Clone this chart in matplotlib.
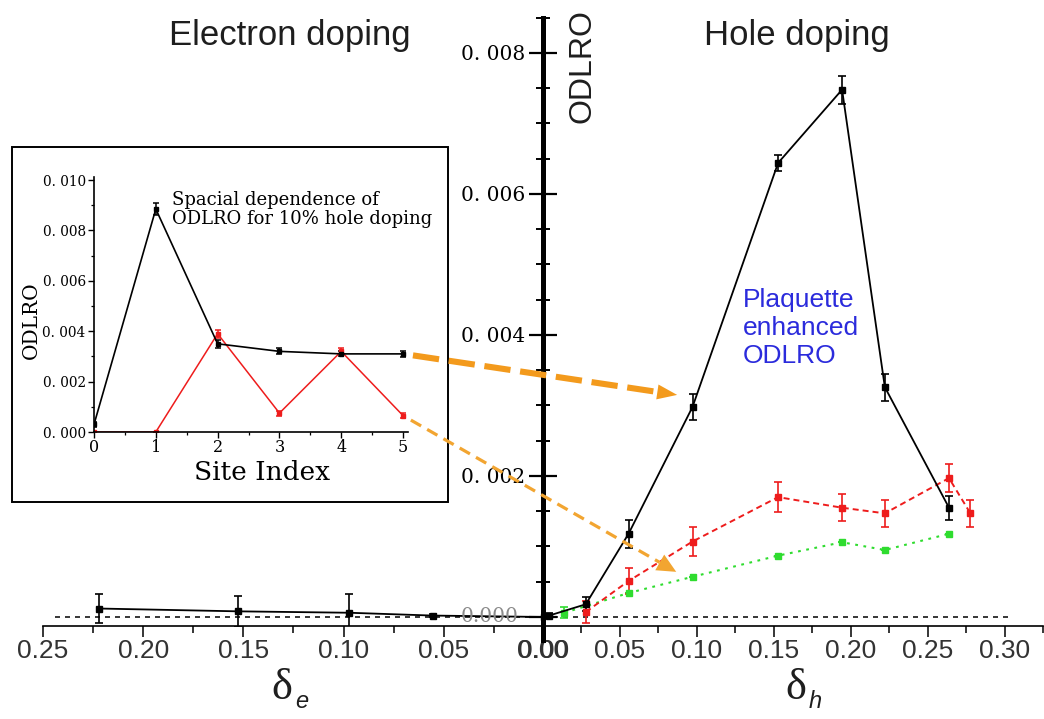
import matplotlib
matplotlib.use("Agg")
import numpy as np
import matplotlib.pyplot as plt
from matplotlib.ticker import MultipleLocator, FuncFormatter, NullLocator
from matplotlib.patches import Rectangle, Polygon
from matplotlib.lines import Line2D

plt.rcParams['lines.scale_dashes'] = False

# ---------------- data ----------------
# hole doping (right half)
hole_delta_black = [0.004, 0.0278, 0.0556, 0.0972, 0.1528, 0.1944, 0.2222, 0.2639]
hole_odlro_black = [0.00002, 0.00018, 0.00118, 0.00298, 0.00644, 0.00748, 0.00326, 0.00155]
hole_err_black = [0.00003, 0.00010, 0.00020, 0.00018, 0.00012, 0.00020, 0.00019, 0.00017]

hole_delta_red = [0.0278, 0.0556, 0.0972, 0.1528, 0.1944, 0.2222, 0.2639, 0.2778]
hole_odlro_red = [0.00007, 0.00051, 0.00107, 0.00170, 0.00155, 0.00147, 0.00197, 0.00147]
hole_err_red = [0.00015, 0.00018, 0.00021, 0.00021, 0.00019, 0.00019, 0.00020, 0.00019]

hole_delta_green = [0.0139, 0.0556, 0.0972, 0.1528, 0.1944, 0.2222, 0.2639]
hole_odlro_green = [0.00006, 0.00034, 0.00057, 0.00087, 0.00106, 0.00095, 0.00118]
hole_err_green = [0.00008, 0.0, 0.0, 0.0, 0.0, 0.0, 0.0]

# electron doping (left half)
elec_delta = [0.2222, 0.1528, 0.0972, 0.0556, 0.0]
elec_odlro = [0.00012, 0.00008, 0.00006, 0.00002, 0.0]
elec_err = [0.00021, 0.00022, 0.00026, 0.00002, 0.0]

# inset: spatial dependence at 10% hole doping
sites = [0, 1, 2, 3, 4, 5]
site_black = [0.0003, 0.00885, 0.0035, 0.0032, 0.0031, 0.0031]
site_black_err = [0.0001, 0.00024, 0.00015, 0.00012, 0.0001, 0.00012]
site_red = [0.0, 0.0, 0.0039, 0.00075, 0.0032, 0.00065]
site_red_err = [0.0, 0.0, 0.00016, 0.0001, 0.00012, 0.0001]

x_ticks_e = [0.25, 0.20, 0.15, 0.10, 0.05, 0.00]
x_ticks_h = [0.00, 0.05, 0.10, 0.15, 0.20, 0.25, 0.30]

# ---------------- figure ----------------
W, H, DPI = 1044, 719, 100
fig = plt.figure(figsize=(W / DPI, H / DPI), dpi=DPI)
fig.patch.set_facecolor('white')


def fx(px):
    return px / W


def fy(py):
    return 1 - py / H


SANS = 'Liberation Sans'
SERIF = 'DejaVu Serif'
Y_LO, Y_HI = -0.000128, 0.0085
top_px, bot_px = 17.75, 626

ax_e = fig.add_axes([fx(43), fy(bot_px), fx(544 - 43), (bot_px - top_px) / H])
ax_h = fig.add_axes([fx(543), fy(bot_px), fx(1043 - 543), (bot_px - top_px) / H])
for ax in (ax_e, ax_h):
    ax.set_facecolor('none')
    ax.set_ylim(Y_LO, Y_HI)
    for s in ('top', 'right'):
        ax.spines[s].set_visible(False)
    ax.spines['bottom'].set_linewidth(1.2)
    ax.xaxis.set_major_formatter(FuncFormatter(lambda v, p: f"{abs(v):.2f}"))
    ax.xaxis.set_minor_locator(MultipleLocator(0.025))
    ax.tick_params(axis='x', which='major', direction='out', length=8, width=1.1,
                   labelsize=19, labelcolor='#333333', pad=1, labelfontfamily=SANS)
    ax.tick_params(axis='x', which='minor', direction='out', length=5, width=1.1)

ax_e.set_xlim(0.25, 0.0)
ax_e.set_xticks(x_ticks_e)
ax_e.spines['left'].set_visible(False)
ax_e.yaxis.set_major_locator(NullLocator())

ax_h.set_xlim(0.0, 0.325)
ax_h.set_xticks(x_ticks_h)
ax_h.spines['left'].set_linewidth(3.6)
ax_h.spines['left'].set_bounds(-0.00033, Y_HI)
ax_h.yaxis.set_major_locator(MultipleLocator(0.002))
ax_h.yaxis.set_minor_locator(MultipleLocator(0.0005))
ax_h.yaxis.set_major_formatter(
    FuncFormatter(lambda v, p: '' if abs(v) < 1e-9 else f"0. {round(v * 1000):03d}"))
ax_h.tick_params(axis='y', which='major', direction='inout', length=20, width=1.6,
                 labelsize=14.5, pad=3, labelfontfamily=SERIF)
ax_h.tick_params(axis='y', which='minor', direction='inout', length=10, width=1.4)
ax_h.annotate('0.000', xy=(0, 0), xycoords='data', xytext=(-24, 0),
              textcoords='offset pixels', ha='right', va='center',
              fontsize=14.5, family=SERIF, color='#8a8a8a', annotation_clip=False)

# zero reference lines
zero_kw = dict(colors='black', linewidth=1.1, linestyles=[(0, (3.6, 3.6))])
ax_e.hlines(0, 0.244, 0.0, **zero_kw)
ax_h.hlines(0, 0.0, 0.304, **zero_kw)

# series
err_kw = dict(capsize=3, elinewidth=1.2, capthick=1.2, markersize=4, marker='s')
ax_e.errorbar(elec_delta, elec_odlro, yerr=elec_err, color='black', lw=1.3, **err_kw)
ax_h.errorbar(hole_delta_green, hole_odlro_green, yerr=hole_err_green, color='#2fdc2f',
              lw=1.5, ls=(0, (2.0, 4.0)), **err_kw)
ax_h.errorbar(hole_delta_red, hole_odlro_red, yerr=hole_err_red, color='#ee1c1c',
              lw=1.4, ls=(0, (4.3, 2.9)), **err_kw)
ax_h.errorbar(hole_delta_black, hole_odlro_black, yerr=hole_err_black, color='black',
              lw=1.3, **err_kw)

# ---------------- inset ----------------
fig.add_artist(Rectangle((fx(12), fy(502)), fx(448 - 12), (502 - 147) / H,
                         transform=fig.transFigure, fill=False, lw=1.4, ec='black'))
ax_in = fig.add_axes([fx(94), fy(432), fx(408 - 94), (432 - 177) / H])
ax_in.set_facecolor('none')
ax_in.set_xlim(0, 5.08)
ax_in.set_ylim(0, 0.01012)
for s in ('top', 'right'):
    ax_in.spines[s].set_visible(False)
for s in ('left', 'bottom'):
    ax_in.spines[s].set_linewidth(1.2)
ax_in.xaxis.set_major_locator(MultipleLocator(1))
ax_in.xaxis.set_minor_locator(MultipleLocator(0.5))
ax_in.yaxis.set_major_locator(MultipleLocator(0.002))
ax_in.yaxis.set_minor_locator(MultipleLocator(0.001))
ax_in.yaxis.set_major_formatter(FuncFormatter(lambda v, p: f"0. {round(v * 1000):03d}"))
ax_in.tick_params(which='major', direction='out', length=4, width=1.0,
                  labelsize=9.8, pad=2, labelfontfamily=SERIF)
ax_in.tick_params(axis='x', which='major', labelsize=11.5, pad=1)
ax_in.tick_params(which='minor', direction='out', length=2.5, width=0.9)
ax_in.errorbar(sites, site_red, yerr=site_red_err, color='#ee1c1c', lw=1.1,
               capsize=2.5, elinewidth=1.1, capthick=1.1, marker='s', markersize=3.5)
ax_in.errorbar(sites, site_black, yerr=site_black_err, color='black', lw=1.2,
               capsize=2.5, elinewidth=1.1, capthick=1.1, marker='s', markersize=3.5)
fig.text(fx(31), fy(320), 'ODLRO', rotation=90, ha='center', va='center',
         fontsize=14.5, family=SERIF)
fig.text(fx(262), fy(473), 'Site Index', ha='center', va='center',
         fontsize=19, family=SERIF)
fig.text(fx(172), fy(191), 'Spacial dependence of\nODLRO for 10% hole doping',
         ha='left', va='top', fontsize=13, family=SERIF, linespacing=1.05)

# ---------------- labels ----------------
fig.text(fx(290), fy(36), 'Electron doping', ha='center', va='center',
         fontsize=25, family=SANS, color='#1e1e1e')
fig.text(fx(797), fy(36), 'Hole doping', ha='center', va='center',
         fontsize=25, family=SANS, color='#1e1e1e')
fig.text(fx(583), fy(66), 'ODLRO', rotation=90, ha='center', va='center',
         fontsize=23, family=SANS, color='#1e1e1e')
# doping axis symbols: upright delta with italic subscript
for cx, sub in ((282, 'e'), (796, 'h')):
    fig.text(fx(cx), fy(688), 'δ', ha='center', va='center', fontsize=32,
             family='Liberation Serif', color='#1e1e1e')
    fig.text(fx(cx + 13), fy(702), sub, ha='left', va='center', fontsize=17,
             family=SANS, style='italic', color='#1e1e1e')
fig.text(fx(743), fy(328), 'Plaquette\nenhanced\nODLRO', ha='left', va='center',
         fontsize=19, family=SANS, color='#2b2bdc', linespacing=1.22)


# ---------------- orange pointers ----------------
def pointer(start_disp, tip_disp, lw, dashes, color, head_len, head_w, gap):
    p0 = np.asarray(start_disp, float)
    p1 = np.asarray(tip_disp, float)
    d = (p1 - p0) / np.hypot(*(p1 - p0))
    n = np.array([-d[1], d[0]])
    a = p0 + d * gap
    base = p1 - d * head_len
    inv = fig.transFigure.inverted()
    seg = inv.transform([a, base])
    fig.add_artist(Line2D(seg[:, 0], seg[:, 1], transform=fig.transFigure, lw=lw,
                          color=color, dashes=dashes, dash_capstyle='butt'))
    tri = inv.transform([p1, base + n * head_w / 2, base - n * head_w / 2])
    fig.add_artist(Polygon(tri, closed=True, transform=fig.transFigure,
                           facecolor=color, edgecolor='none'))


pointer(ax_in.transData.transform((sites[5], site_black[5])),
        ax_h.transData.transform((0.0872, 0.00315)),
        lw=4.4, dashes=(19, 7), color='#f39a1c', head_len=20, head_w=15, gap=10)
pointer(ax_in.transData.transform((sites[5], site_red[5])),
        ax_h.transData.transform((0.0866, 0.00064)),
        lw=2.3, dashes=(8.5, 5), color='#f2a531', head_len=19, head_w=18, gap=9)

fig.savefig('out.png', dpi=DPI)
